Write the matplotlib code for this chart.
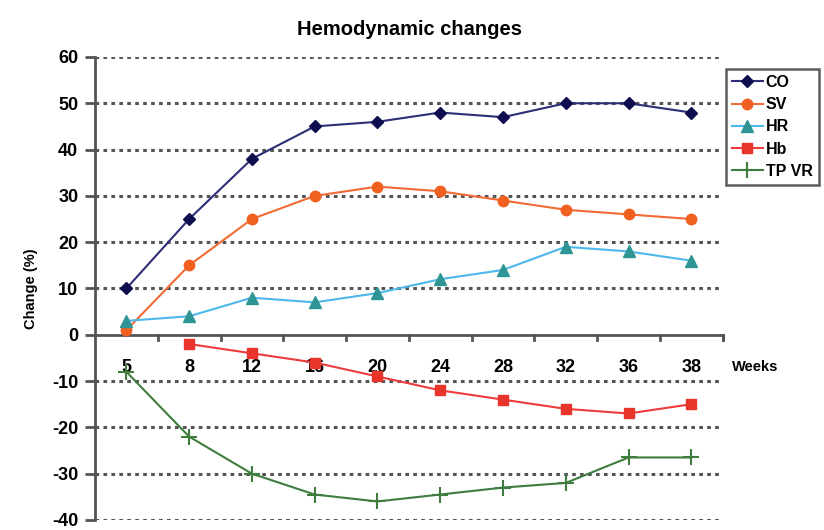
import matplotlib
matplotlib.use("Agg")
import matplotlib.pyplot as plt
import numpy as np

plt.rcParams['font.family'] = ['Liberation Sans', 'DejaVu Sans']

weeks = ["5", "8", "12", "16", "20", "24", "28", "32", "36", "38"]
co = [10, 25, 38, 45, 46, 48, 47, 50, 50, 48]
sv = [1, 15, 25, 30, 32, 31, 29, 27, 26, 25]
hr = [3, 4, 8, 7, 9, 12, 14, 19, 18, 16]
hb = [None, -2, -4, -6, -9, -12, -14, -16, -17, -15]
tpvr = [-8, -22, -30, -34.5, -36, -34.5, -33, -32, -26.5, -26.5]
yticks = [-40, -30, -20, -10, 0, 10, 20, 30, 40, 50, 60]

fig = plt.figure(figsize=(8.24, 5.30), dpi=100)
ax = fig.add_axes([0.1153, 0.0189, 0.7617, 0.8736])

x = np.arange(len(weeks))
hb_arr = np.array([np.nan if v is None else v for v in hb], dtype=float)

ax.plot(x, co, color='#2E2E78', marker='D', markersize=6.5, markerfacecolor='#0D0D50',
        markeredgecolor='#0D0D50', lw=1.5, label='CO', zorder=5)
ax.plot(x, sv, color='#F26A35', marker='o', markersize=7.5, markerfacecolor='#F06020',
        markeredgecolor='#F06020', lw=1.5, label='SV', zorder=4)
ax.plot(x, hr, color='#4DB8EC', marker='^', markersize=8.5, markerfacecolor='#2E9494',
        markeredgecolor='#2E9494', lw=1.5, label='HR', zorder=6)
ax.plot(x, hb_arr, color='#EE3B3B', marker='s', markersize=6.5, markerfacecolor='#E8342A',
        markeredgecolor='#E8342A', lw=1.5, label='Hb', zorder=4)
ax.plot(x, tpvr, color='#3E7D3E', marker='+', markersize=11, markeredgewidth=1.5,
        lw=1.5, label='TP VR', zorder=4)

ax.set_xlim(-0.5, len(weeks) - 0.5)
ax.set_ylim(-40, 60)
ax.set_yticks(yticks)
ax.set_yticklabels([str(v) for v in yticks], fontsize=13, fontweight='bold')
for v in yticks:
    if v != 0:
        ax.axhline(v, color='#555555', lw=2.2, ls=(0, (1.2, 1.4)), zorder=1)

for s in ['top', 'right', 'bottom']:
    ax.spines[s].set_visible(False)
ax.spines['left'].set_color('#555555')
ax.spines['left'].set_linewidth(2)
ax.axhline(0, color='#555555', lw=2, zorder=2)
# category boundary ticks on the zero line
for b in np.arange(0.5, len(weeks), 1.0):
    ax.plot([b, b], [0, -1.2], color='#555555', lw=2, zorder=2, clip_on=False)
ax.plot([len(weeks) - 0.5, len(weeks) - 0.5], [0, -1.2], color='#555555', lw=2, clip_on=False)

ax.set_xticks([])
ax.tick_params(axis='y', length=7, width=2, color='#555555', pad=5)
for xi, lab in zip(x, weeks):
    ax.text(xi, -7, lab, ha='center', va='center', fontsize=13, fontweight='bold', zorder=3)
ax.text(len(weeks) - 0.35, -7, 'Weeks', ha='left', va='center', fontsize=10.5,
        fontweight='bold')

ax.set_ylabel('Change (%)', fontsize=10.5, fontweight='bold', labelpad=10)
fig.text(0.4965, 0.945, 'Hemodynamic changes', ha='center', va='center', fontsize=14.5,
         fontweight='bold')

leg = ax.legend(loc='upper left', bbox_to_anchor=(1.005, 0.975),
                prop={'weight': 'bold', 'size': 11.5}, frameon=True, fancybox=False,
                edgecolor='#333333', handlelength=1.9, handletextpad=0.2,
                borderpad=0.4, labelspacing=0.45, borderaxespad=0.0)
leg.get_frame().set_linewidth(1.8)

fig.savefig('out.png', dpi=100)
